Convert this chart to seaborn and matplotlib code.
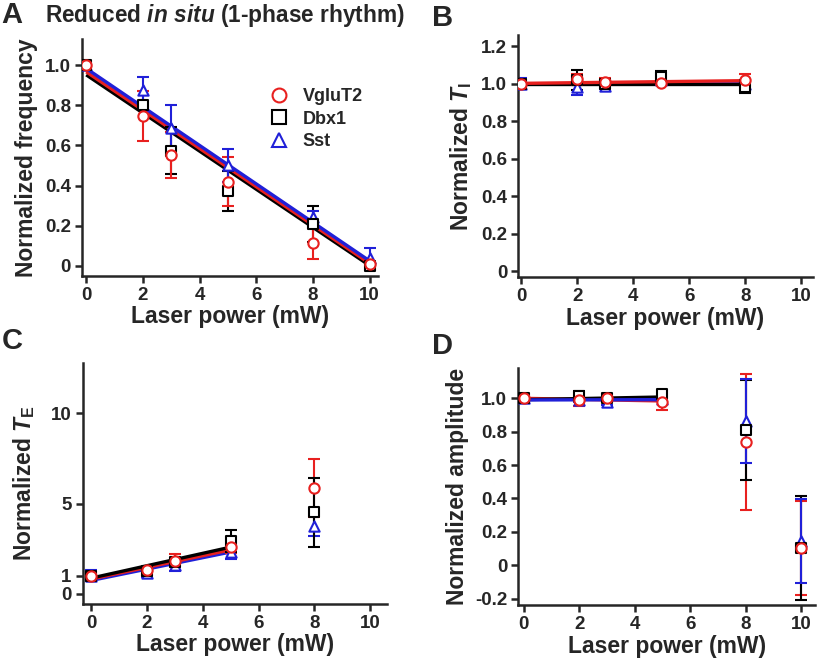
import numpy as np
import pandas as pd
import matplotlib
matplotlib.use("Agg")
import matplotlib.pyplot as plt
import seaborn as sns

# ====================== DATA ======================
lines = ['VgluT2', 'Dbx1', 'Sst']
power = [0, 2, 3, 5, 8, 10]

# A: normalized frequency
freq = {
    'VgluT2': [1.0, 0.746, 0.55, 0.42, 0.116, 0.01],
    'Dbx1':   [1.0, 0.80, 0.574, 0.373, 0.209, 0.0],
    'Sst':    [1.0, 0.876, 0.686, 0.50, 0.245, 0.04],
}
freq_err = {
    'VgluT2': [0.01, 0.125, 0.115, 0.12, 0.08, 0.01],
    'Dbx1':   [0.01, 0.02, 0.115, 0.098, 0.09, 0.01],
    'Sst':    [0.01, 0.065, 0.115, 0.08, 0.03, 0.05],
}
freq_fit_b = {'VgluT2': 0.966, 'Dbx1': 0.951, 'Sst': 0.983}
freq_fit_m = {'VgluT2': -0.0953, 'Dbx1': -0.0949, 'Sst': -0.0958}

# B: normalized TI (no rhythm at 10 mW)
power_b = [0, 2, 3, 5, 8]
ti = {
    'VgluT2': [1.0, 1.024, 1.011, 1.004, 1.019],
    'Dbx1':   [1.0, 1.02, 1.0, 1.035, 0.985],
    'Sst':    [1.0, 0.98, 0.99, 1.02, 1.0],
}
ti_err = {
    'VgluT2': [0.01, 0.03, 0.02, 0.01, 0.035],
    'Dbx1':   [0.02, 0.052, 0.015, 0.035, 0.037],
    'Sst':    [0.03, 0.038, 0.02, 0.02, 0.01],
}
ti_fit_b = {'VgluT2': 1.002, 'Dbx1': 1.0, 'Sst': 0.998}
ti_fit_m = {'VgluT2': 0.0018, 'Dbx1': 0.0, 'Sst': 0.0002}

# C: normalized TE
te = {
    'VgluT2': [1.0, 1.33, 1.83, 2.57, 5.87],
    'Dbx1':   [1.0, 1.28, 1.75, 2.94, 4.52],
    'Sst':    [1.0, 1.17, 1.57, 2.33, 3.74],
}
te_err = {
    'VgluT2': [0.1, 0.1, 0.37, 0.3, 1.63],
    'Dbx1':   [0.15, 0.15, 0.2, 0.62, 1.92],
    'Sst':    [0.3, 0.23, 0.28, 0.39, 0.56],
}
te_fit_b = {'VgluT2': 0.82, 'Dbx1': 0.87, 'Sst': 0.74}
te_fit_m = {'VgluT2': 0.324, 'Dbx1': 0.344, 'Sst': 0.316}

# D: normalized amplitude
amp = {
    'VgluT2': [1.0, 0.99, 1.0, 0.978, 0.738, 0.104],
    'Dbx1':   [1.0, 1.016, 1.0, 1.024, 0.81, 0.104],
    'Sst':    [1.0, 0.99, 0.98, 0.995, 0.864, 0.146],
}
amp_err = {
    'VgluT2': [0.01, 0.034, 0.01, 0.05, 0.41, 0.28],
    'Dbx1':   [0.01, 0.025, 0.01, 0.01, 0.30, 0.31],
    'Sst':    [0.01, 0.01, 0.02, 0.01, 0.25, 0.25],
}
amp_fit_b = {'VgluT2': 1.0, 'Dbx1': 0.992, 'Sst': 0.99}
amp_fit_m = {'VgluT2': -0.0032, 'Dbx1': 0.0032, 'Sst': 0.0004}

colors = {'VgluT2': '#e8201f', 'Dbx1': 'black', 'Sst': '#2020d8'}
markers = {'VgluT2': 'o', 'Dbx1': 's', 'Sst': '^'}

# ====================== STYLE ======================
sns.set_style("ticks")
plt.rcParams['font.family'] = ['Liberation Sans', 'DejaVu Sans']
plt.rcParams['font.weight'] = 'bold'
plt.rcParams['axes.labelweight'] = 'bold'
plt.rcParams['mathtext.fontset'] = 'custom'
plt.rcParams['mathtext.rm'] = 'Liberation Sans:bold'
plt.rcParams['mathtext.it'] = 'Liberation Sans:italic:bold'
plt.rcParams['mathtext.bf'] = 'Liberation Sans:bold'

LABEL_SIZE = 16.5

fig = plt.figure(figsize=(8.2, 6.6), dpi=100)
axA = fig.add_axes([0.100, 0.582, 0.361, 0.359])
axB = fig.add_axes([0.632, 0.580, 0.359, 0.367])
axC = fig.add_axes([0.101, 0.085, 0.371, 0.365])
axD = fig.add_axes([0.632, 0.083, 0.362, 0.359])


def panel(ax, x, vals, errs, fit_b, fit_m, fit_end, order, mark_order):
    # fitted lines under everything
    for name in order:
        xs = np.array([0, fit_end])
        ax.plot(xs, fit_b[name] + fit_m[name] * xs, color=colors[name],
                lw=2.4, zorder=1, solid_capstyle='butt')
    for name in order:
        n = len(vals[name])
        ax.errorbar(x[:n], vals[name], yerr=errs[name], fmt='none',
                    ecolor=colors[name], elinewidth=1.5, capsize=4,
                    capthick=1.5, zorder=2)
    rows = []
    for name in mark_order:
        for xi, yi in zip(x, vals[name]):
            rows.append((name, xi, yi))
    df = pd.DataFrame(rows, columns=['line', 'power', 'value'])
    for name in mark_order:
        sub = df[df['line'] == name]
        sns.scatterplot(data=sub, x='power', y='value', ax=ax,
                        marker=markers[name], s=55, facecolor='white',
                        edgecolor=colors[name], linewidth=1.5, zorder=3,
                        legend=False)
    ax.set_xlim(-0.15, 10.3)
    ax.set_xticks([0, 2, 4, 6, 8, 10])
    ax.set_xlabel('Laser power (mW)', fontsize=LABEL_SIZE, labelpad=1)
    sns.despine(ax=ax)
    for s in ['left', 'bottom']:
        ax.spines[s].set_linewidth(1.8)
    ax.tick_params(width=1.8, length=5, labelsize=13.5, pad=3)


# A
panel(axA, power, freq, freq_err, freq_fit_b, freq_fit_m, 10,
      ['Dbx1', 'VgluT2', 'Sst'], ['Sst', 'Dbx1', 'VgluT2'])
axA.set_ylim(-0.05, 1.13)
axA.set_yticks([0, 0.2, 0.4, 0.6, 0.8, 1.0])
axA.set_yticklabels(['0', '0.2', '0.4', '0.6', '0.8', '1.0'])
axA.set_ylabel('Normalized frequency', fontsize=LABEL_SIZE, labelpad=5)
handles = [plt.Line2D([], [], ls='none', marker=markers[n], ms=10,
                      mfc='white', mec=colors[n], mew=1.5) for n in lines]
axA.legend(handles, lines, loc='upper left', bbox_to_anchor=(0.55, 0.86),
           frameon=False, labelspacing=0.3, handletextpad=0.3,
           prop={'weight': 'bold', 'size': 13})

# B
panel(axB, power_b, ti, ti_err, ti_fit_b, ti_fit_m, 8,
      ['Sst', 'Dbx1', 'VgluT2'], ['Sst', 'Dbx1', 'VgluT2'])
axB.set_ylim(-0.032, 1.26)
axB.set_xlim(-0.1, 10.4)
axB.set_yticks([0, 0.2, 0.4, 0.6, 0.8, 1.0, 1.2])
axB.set_yticklabels(['0', '0.2', '0.4', '0.6', '0.8', '1.0', '1.2'])
axB.set_ylabel('Normalized $T_{\\rm I}$', fontsize=LABEL_SIZE, labelpad=5)

# C
panel(axC, power, te, te_err, te_fit_b, te_fit_m, 5,
      ['Sst', 'VgluT2', 'Dbx1'], ['Sst', 'Dbx1', 'VgluT2'])
axC.set_ylim(-0.56, 12.8)
axC.set_xlim(-0.3, 10.6)
axC.set_yticks([0, 1, 5, 10])
axC.set_yticklabels(['0', '1', '5', '10'])
axC.set_ylabel('Normalized $T_{\\rm E}$', fontsize=LABEL_SIZE, labelpad=10)

# D
panel(axD, power, amp, amp_err, amp_fit_b, amp_fit_m, 5,
      ['VgluT2', 'Dbx1', 'Sst'], ['Sst', 'Dbx1', 'VgluT2'])
axD.set_ylim(-0.24, 1.18)
axD.set_xlim(-0.2, 10.5)
axD.set_yticks([-0.2, 0, 0.2, 0.4, 0.6, 0.8, 1.0])
axD.set_yticklabels(['-0.2', '0', '0.2', '0.4', '0.6', '0.8', '1.0'])
axD.set_ylabel('Normalized amplitude', fontsize=LABEL_SIZE, labelpad=4)

for ax in [axA, axB, axC, axD]:
    for lab in ax.get_xticklabels() + ax.get_yticklabels():
        lab.set_fontweight('bold')

# Panel letters and title
fig.text(0.002, 0.978, 'A', fontsize=21, fontweight='bold', va='center')
fig.text(0.527, 0.972, 'B', fontsize=21, fontweight='bold', va='center')
fig.text(0.002, 0.483, 'C', fontsize=21, fontweight='bold', va='center')
fig.text(0.527, 0.475, 'D', fontsize=21, fontweight='bold', va='center')
fig.text(0.055, 0.977, 'Reduced $in\\ situ$ (1-phase rhythm)', fontsize=16.3,
         fontweight='bold', va='center')

plt.savefig('out.png', dpi=100)
